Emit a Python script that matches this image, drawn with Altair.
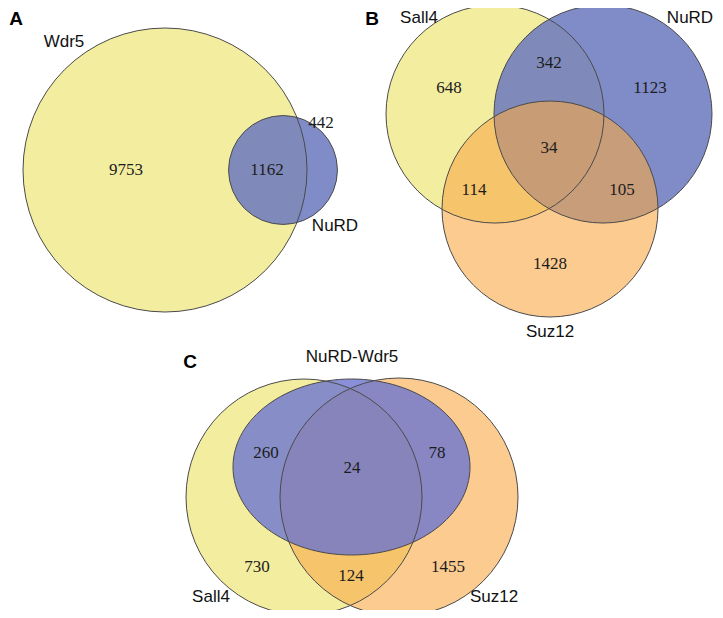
import math
import altair as alt
import pandas as pd

# ---------------- data ----------------
panels = ["A", "B", "C"]

a_sets = ["Wdr5", "NuRD"]
a_regions = ["Wdr5 only", "Wdr5 & NuRD", "NuRD only"]
a_counts = [9753, 1162, 442]

b_sets = ["Sall4", "NuRD", "Suz12"]
b_regions = ["Sall4 only", "Sall4 & NuRD", "NuRD only", "all three",
             "Sall4 & Suz12", "NuRD & Suz12", "Suz12 only"]
b_counts = [648, 342, 1123, 34, 114, 105, 1428]

c_sets = ["Sall4", "NuRD-Wdr5", "Suz12"]
c_regions = ["Sall4 & NuRD-Wdr5", "all three", "NuRD-Wdr5 & Suz12",
             "Sall4 only", "Sall4 & Suz12", "Suz12 only"]
c_counts = [260, 24, 78, 730, 124, 1455]

# ---------------- layout (pixel positions of the figure) ----------------
YELLOW, BLUE, BLUE_C, ORANGE = "#f3eda0", "#6a78be", "#6c74d0", "#f8a846"
A_YEL, A_BLUE, A_BLUE_C, A_ORG = 1.0, 0.85, 0.8, 0.6

# panel A is area-proportional
rA_big = 142
rA_small = rA_big * math.sqrt((a_counts[1] + a_counts[2]) / (a_counts[0] + a_counts[1]))

k = 0.5523
e = 88 / 118.5
ellipse = (f"M-1,0 C-1,{-k*e:.4f} {-k},{-e:.4f} 0,{-e:.4f} "
           f"C{k},{-e:.4f} 1,{-k*e:.4f} 1,0 "
           f"C1,{k*e:.4f} {k},{e:.4f} 0,{e:.4f} "
           f"C{-k},{e:.4f} -1,{k*e:.4f} -1,0 Z")

shape_rows = [
    # panel, set, cx, cy, half-width, shape, colour, alpha, z
    ("A", a_sets[0], 165, 170, rA_big, "circle", YELLOW, A_YEL, 1),
    ("A", a_sets[1], 283, 170, rA_small, "circle", BLUE, A_BLUE, 2),
    ("B", b_sets[0], 495, 114, 109, "circle", YELLOW, A_YEL, 3),
    ("B", b_sets[1], 603, 114, 109, "circle", BLUE, A_BLUE, 4),
    ("B", b_sets[2], 550, 209, 108, "circle", ORANGE, A_ORG, 5),
    ("C", c_sets[0], 304, 497, 118, "circle", YELLOW, A_YEL, 6),
    ("C", c_sets[2], 399, 497, 119, "circle", ORANGE, A_ORG, 7),
    ("C", c_sets[1], 351.5, 467, 118.5, ellipse, BLUE_C, A_BLUE_C, 8),
]
shapes = pd.DataFrame(shape_rows, columns=["panel", "set", "x", "y", "r", "shape", "color", "alpha", "z"])
shapes["size"] = (2 * shapes["r"]) ** 2

count_xy = {
    "A": [(126, 170), (267, 170), (321, 123)],
    "B": [(449, 88), (549, 63), (650, 88), (549, 148), (474, 190), (622, 190), (550, 264)],
    "C": [(266, 453), (352, 468), (437, 453), (257, 567), (351, 576), (448, 567)],
}
counts = pd.DataFrame(
    [("A", reg, str(v), *count_xy["A"][i]) for i, (reg, v) in enumerate(zip(a_regions, a_counts))]
    + [("B", reg, str(v), *count_xy["B"][i]) for i, (reg, v) in enumerate(zip(b_regions, b_counts))]
    + [("C", reg, str(v), *count_xy["C"][i]) for i, (reg, v) in enumerate(zip(c_regions, c_counts))],
    columns=["panel", "region", "text", "x", "y"],
)

set_xy = {
    "A": [(64, 42), (335, 226)],
    "B": [(419, 18), (690, 18), (550, 332)],
    "C": [(211, 597), (352, 357), (494, 597)],
}
set_labels = pd.DataFrame(
    [("A", s, *set_xy["A"][i]) for i, s in enumerate(a_sets)]
    + [("B", s, *set_xy["B"][i]) for i, s in enumerate(b_sets)]
    + [("C", s, *set_xy["C"][i]) for i, s in enumerate(c_sets)],
    columns=["panel", "text", "x", "y"],
)

letter_xy = [(16, 19), (372, 19), (190, 362)]
letters = pd.DataFrame([(p, *letter_xy[i]) for i, p in enumerate(panels)],
                       columns=["text", "x", "y"])

# ---------------- chart ----------------
X = alt.X("x:Q", scale=alt.Scale(domain=[8, 715], range=[0, 707], zero=False, nice=False), axis=None)
Y = alt.Y("y:Q", scale=alt.Scale(domain=[8, 610], range=[0, 602], zero=False, nice=False), axis=None)

fills = alt.Chart(shapes).mark_point(filled=True, opacity=1, strokeWidth=0).encode(
    x=X, y=Y,
    size=alt.Size("size:Q", scale=None),
    shape=alt.Shape("shape:N", scale=None),
    fill=alt.Fill("color:N", scale=None),
    fillOpacity=alt.FillOpacity("alpha:Q", scale=None),
    order=alt.Order("z:Q"),
)

outlines = alt.Chart(shapes).mark_point(filled=False, opacity=1, stroke="#4a4a4a", strokeWidth=1).encode(
    x=X, y=Y,
    size=alt.Size("size:Q", scale=None),
    shape=alt.Shape("shape:N", scale=None),
    order=alt.Order("z:Q"),
)

count_text = alt.Chart(counts).mark_text(
    font="Liberation Serif", fontSize=17, color="#1c1c1c", align="center", baseline="middle"
).encode(x=X, y=Y, text="text:N")

set_text = alt.Chart(set_labels).mark_text(
    font="Liberation Sans", fontSize=17, color="#111111", align="center", baseline="middle"
).encode(x=X, y=Y, text="text:N")

letter_text = alt.Chart(letters).mark_text(
    font="Liberation Sans", fontSize=19, fontWeight="bold", color="#000000", align="center", baseline="middle"
).encode(x=X, y=Y, text="text:N")

chart = alt.layer(fills, outlines, count_text, set_text, letter_text).properties(
    width=707, height=602,
    autosize=alt.AutoSizeParams(type="none"),
    padding=0,
    background="white",
).configure_view(stroke=None)

chart.save("out.html", embed_options={"renderer": "svg", "actions": False})
